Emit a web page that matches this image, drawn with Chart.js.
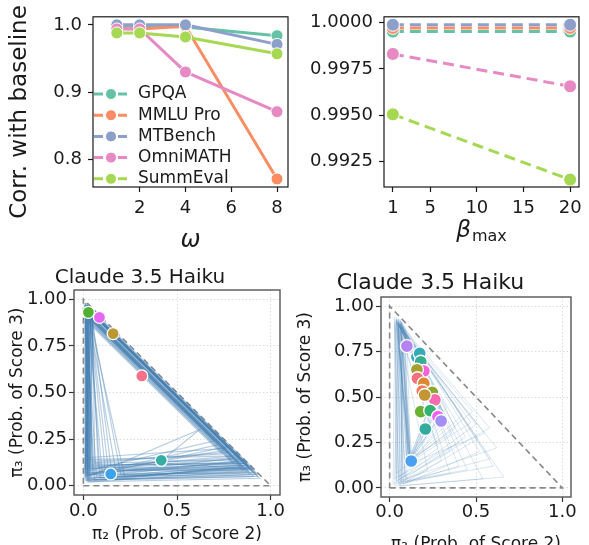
<!DOCTYPE html>
<html>
<head>
<meta charset="utf-8">
<script src="https://cdn.jsdelivr.net/npm/chart.js@4.4.0/dist/chart.umd.min.js"></script>
<style>
  html, body { margin: 0; padding: 0; background: #fff; }
  #wrap { position: relative; width: 589px; height: 545px; overflow: hidden; }
  canvas { position: absolute; }
</style>
</head>
<body>
<div id="wrap">
  <canvas id="cOmega" style="left:0;top:0" width="295" height="255"></canvas>
  <canvas id="cBeta" style="left:295px;top:0" width="294" height="255"></canvas>
  <canvas id="cSimplexA" style="left:0;top:255px" width="290" height="290"></canvas>
  <canvas id="cSimplexB" style="left:290px;top:255px" width="299" height="300"></canvas>
</div>
<script>
// ---- data ----
const seriesNames = ['GPQA', 'MMLU Pro', 'MTBench', 'OmniMATH', 'SummEval'];
const seriesColors = ['#66c2a5', '#fc8d62', '#8da0cb', '#e78ac3', '#a6d854'];

const omegaX = [1, 2, 4, 8];
const omegaGPQA = [0.999, 0.999, 0.997, 0.984];
const omegaMMLU = [0.995, 0.994, 0.998, 0.771];
const omegaMTBench = [1.0, 1.0, 1.0, 0.971];
const omegaOmni = [0.994, 0.994, 0.930, 0.871];
const omegaSumm = [0.988, 0.988, 0.982, 0.957];

const betaX = [1, 20];
const betaGPQA = [0.99952, 0.99952];
const betaMMLU = [0.99972, 0.99972];
const betaMTBench = [0.99989, 0.99989];
const betaOmni = [0.99831, 0.99656];
const betaSumm = [0.99504, 0.99151];

const omegaTicks = [2, 4, 6, 8];
const corrTicksOmega = [0.8, 0.9, 1.0];
const betaTicks = [1, 5, 10, 15, 20];
const corrTicksBeta = [0.9925, 0.995, 0.9975, 1.0];
const probTicksX = [0, 0.5, 1];
const probTicksY = [0, 0.25, 0.5, 0.75, 1];

// simplex panels: (pi2, pi3) trajectories and final points
const simplexEdge = [[0, 0], [1, 0], [0, 1], [0, 0]];

const trajHaikuA = [
  [[0.01,0.98],[0.01,0.03],[0.92,0.06],[0.01,0.96]],
  [[0.02,0.96],[0.02,0.05],[0.88,0.10],[0.01,0.96]],
  [[0.03,0.95],[0.02,0.08],[0.85,0.12],[0.02,0.94]],
  [[0.02,0.97],[0.03,0.02],[0.90,0.08],[0.02,0.95]],
  [[0.04,0.94],[0.01,0.10],[0.80,0.15],[0.03,0.91]],
  [[0.01,0.97],[0.04,0.04],[0.86,0.09],[0.01,0.93]],
  [[0.03,0.96],[0.02,0.12],[0.78,0.18],[0.03,0.92]],
  [[0.02,0.95],[0.05,0.06],[0.91,0.07],[0.02,0.95]],
  [[0.05,0.93],[0.03,0.09],[0.83,0.13],[0.04,0.91]],
  [[0.01,0.96],[0.01,0.07],[0.87,0.11],[0.02,0.95]],
  [[0.03,0.94],[0.12,0.05],[0.89,0.06],[0.02,0.92]],
  [[0.02,0.96],[0.18,0.04],[0.84,0.10],[0.02,0.91]],
  [[0.04,0.95],[0.08,0.10],[0.82,0.16],[0.03,0.94]],
  [[0.02,0.97],[0.02,0.15],[0.76,0.20],[0.02,0.93]],
  [[0.01,0.95],[0.06,0.03],[0.93,0.05],[0.01,0.96]],
  [[0.03,0.97],[0.03,0.06],[0.72,0.22],[0.03,0.90]],
  [[0.02,0.94],[0.01,0.04],[0.85,0.08],[0.02,0.90]],
  [[0.04,0.96],[0.15,0.08],[0.88,0.09],[0.03,0.93]],
  [[0.02,0.98],[0.02,0.11],[0.80,0.12],[0.02,0.89]],
  [[0.05,0.90],[0.03,0.05],[0.62,0.30],[0.40,0.12],[0.89,0.09],[0.02,0.95]],
  [[0.01,0.97],[0.02,0.02],[0.94,0.04],[0.01,0.97]],
  [[0.03,0.95],[0.04,0.13],[0.74,0.17],[0.03,0.87]],
  [[0.02,0.96],[0.10,0.07],[0.86,0.13],[0.02,0.96]],
  [[0.04,0.93],[0.02,0.06],[0.81,0.11],[0.04,0.87]],
  [[0.01,0.98],[0.03,0.03],[0.90,0.10],[0.01,0.98]],
  [[0.03,0.96],[0.20,0.06],[0.87,0.07],[0.03,0.90]],
  [[0.02,0.95],[0.01,0.09],[0.79,0.14],[0.02,0.90]],
  [[0.05,0.94],[0.06,0.12],[0.84,0.14],[0.04,0.93]],
  [[0.02,0.97],[0.02,0.04],[0.92,0.07],[0.02,0.96]],
  [[0.03,0.95],[0.14,0.03],[0.88,0.11],[0.03,0.95]],
  [[0.02,0.97],[0.02,0.06],[0.83,0.15],[0.02,0.95]],
  [[0.01,0.96],[0.03,0.10],[0.89,0.09],[0.01,0.96]],
  [[0.03,0.97],[0.01,0.05],[0.77,0.21],[0.03,0.94]],
  [[0.02,0.95],[0.04,0.07],[0.86,0.12],[0.02,0.95]],
  [[0.04,0.96],[0.02,0.03],[0.91,0.05],[0.03,0.92]],
  [[0.01,0.97],[0.07,0.05],[0.82,0.13],[0.01,0.93]],
  [[0.03,0.94],[0.02,0.14],[0.79,0.16],[0.03,0.91]],
  [[0.02,0.96],[0.05,0.09],[0.88,0.08],[0.02,0.93]],
  [[0.04,0.95],[0.03,0.04],[0.84,0.11],[0.03,0.91]],
  [[0.01,0.98],[0.01,0.06],[0.75,0.19],[0.01,0.92]],
  [[0.02,0.96],[0.22,0.05],[0.90,0.09],[0.02,0.96]],
  [[0.03,0.95],[0.09,0.04],[0.85,0.10],[0.02,0.92]],
  [[0.02,0.97],[0.02,0.08],[0.70,0.24],[0.02,0.91]],
  [[0.05,0.93],[0.04,0.11],[0.87,0.12],[0.04,0.94]],
  [[0.01,0.96],[0.02,0.03],[0.93,0.06],[0.01,0.97]]
];
const finalHaikuA = [[0.027,0.930],[0.086,0.903],[0.159,0.816],[0.312,0.589],[0.416,0.136],[0.146,0.063]];
const finalColorsA = ['#50b131', '#e866f4', '#bb9832', '#f77189', '#36ada4', '#3ba3ec'];

const trajHaikuB = [
  [[0.04,0.92],[0.12,0.14],[0.30,0.42],[0.05,0.90]],
  [[0.06,0.90],[0.11,0.16],[0.28,0.46],[0.06,0.91]],
  [[0.05,0.93],[0.10,0.12],[0.33,0.38],[0.04,0.92]],
  [[0.07,0.88],[0.12,0.18],[0.26,0.50],[0.07,0.89]],
  [[0.03,0.91],[0.05,0.03],[0.45,0.10],[0.05,0.90]],
  [[0.05,0.89],[0.08,0.02],[0.52,0.20],[0.06,0.92]],
  [[0.04,0.94],[0.03,0.05],[0.40,0.25],[0.04,0.92]],
  [[0.08,0.87],[0.10,0.04],[0.58,0.16],[0.07,0.88]],
  [[0.05,0.91],[0.06,0.01],[0.66,0.06],[0.05,0.91]],
  [[0.06,0.93],[0.12,0.15],[0.38,0.33],[0.06,0.92]],
  [[0.03,0.90],[0.02,0.02],[0.50,0.35],[0.04,0.91]],
  [[0.09,0.85],[0.11,0.13],[0.55,0.30],[0.08,0.86]],
  [[0.04,0.92],[0.09,0.06],[0.35,0.20],[0.05,0.93]],
  [[0.06,0.90],[0.13,0.17],[0.32,0.40],[0.06,0.90]],
  [[0.05,0.88],[0.04,0.08],[0.48,0.42],[0.05,0.90]],
  [[0.07,0.91],[0.07,0.03],[0.60,0.12],[0.07,0.91]],
  [[0.04,0.93],[0.11,0.15],[0.29,0.44],[0.04,0.93]],
  [[0.08,0.89],[0.12,0.16],[0.27,0.48],[0.08,0.89]],
  [[0.03,0.92],[0.04,0.02],[0.22,0.10],[0.04,0.92]],
  [[0.06,0.86],[0.09,0.05],[0.44,0.28],[0.06,0.88]],
  [[0.05,0.90],[0.10,0.14],[0.31,0.41],[0.05,0.90]],
  [[0.10,0.84],[0.12,0.15],[0.34,0.36],[0.09,0.85]],
  [[0.04,0.91],[0.12,0.13],[0.25,0.52],[0.05,0.91]],
  [[0.07,0.92],[0.05,0.02],[0.35,0.08],[0.07,0.90]],
  [[0.05,0.87],[0.11,0.14],[0.42,0.40],[0.06,0.88]],
  [[0.03,0.93],[0.08,0.04],[0.30,0.15],[0.04,0.91]],
  [[0.06,0.92],[0.12,0.16],[0.36,0.30],[0.05,0.90]],
  [[0.09,0.87],[0.10,0.12],[0.24,0.47],[0.08,0.87]],
  [[0.04,0.90],[0.06,0.04],[0.62,0.22],[0.05,0.89]],
  [[0.05,0.92],[0.03,0.01],[0.54,0.05],[0.05,0.91]],
  [[0.06,0.89],[0.12,0.14],[0.47,0.36],[0.06,0.90]],
  [[0.03,0.94],[0.05,0.06],[0.28,0.22],[0.04,0.92]],
  [[0.07,0.90],[0.11,0.15],[0.30,0.47],[0.07,0.90]],
  [[0.05,0.91],[0.09,0.03],[0.51,0.27],[0.05,0.91]],
  [[0.04,0.88],[0.12,0.14],[0.27,0.43],[0.05,0.90]],
  [[0.08,0.88],[0.06,0.02],[0.40,0.12],[0.07,0.89]],
  [[0.05,0.93],[0.11,0.15],[0.33,0.44],[0.05,0.92]],
  [[0.06,0.91],[0.04,0.04],[0.58,0.33],[0.06,0.90]]
];
const finalHaikuB = [
  [0.100,0.780],[0.158,0.720],[0.174,0.740],[0.180,0.694],[0.198,0.643],[0.158,0.650],
  [0.161,0.603],[0.198,0.575],[0.189,0.533],[0.247,0.526],[0.262,0.484],[0.203,0.511],
  [0.180,0.420],[0.235,0.425],[0.280,0.392],[0.298,0.368],[0.207,0.324],[0.125,0.148]
];
const finalColorsB = [
  '#b483f4', '#38a7d0', '#36aab5', '#35ae93', '#f461dd', '#a5a031',
  '#f7707d', '#dc8932', '#f37b59', '#8da631', '#f66bad', '#c39533',
  '#6ab131', '#33b171', '#f062f3', '#a18ff6', '#35ab9f', '#4ca0f4'
];

// ---- helpers ----
const FONT = '"DejaVu Sans", sans-serif';
const INK = '#1a1a1a';

const fixedTicks = (vals) => (scale) => { scale.ticks = vals.map(v => ({ value: v })); };

const framePlugin = {
  id: 'frame',
  afterDatasetsDraw(chart, args, opts) {
    const a = chart.chartArea, ctx = chart.ctx;
    ctx.save();
    ctx.strokeStyle = opts.color || INK;
    ctx.lineWidth = opts.width || 1.2;
    ctx.strokeRect(a.left, a.top, a.right - a.left, a.bottom - a.top);
    ctx.restore();
  }
};

const keyPlugin = {
  id: 'seriesKey',
  afterDraw(chart, args, opts) {
    if (!opts.items) return;
    const ctx = chart.ctx;
    opts.items.forEach((it, i) => {
      const y = opts.y + i * opts.gap;
      ctx.save();
      ctx.strokeStyle = it.color; ctx.lineWidth = 3; ctx.setLineDash([9, 3]);
      ctx.beginPath(); ctx.moveTo(opts.x, y); ctx.lineTo(opts.x + 34, y); ctx.stroke();
      ctx.setLineDash([]);
      ctx.beginPath(); ctx.arc(opts.x + 17, y, 5.5, 0, Math.PI * 2);
      ctx.fillStyle = it.color; ctx.fill();
      ctx.strokeStyle = '#fff'; ctx.lineWidth = 1; ctx.stroke();
      ctx.fillStyle = INK; ctx.font = '17px ' + FONT; ctx.textBaseline = 'middle';
      ctx.fillText(it.label, opts.x + 44, y);
      ctx.restore();
    });
  }
};

// free axis texts: rotated y label, beta_max with subscript
const axisTextPlugin = {
  id: 'axisText',
  afterDraw(chart, args, opts) {
    const ctx = chart.ctx;
    (opts.items || []).forEach(it => {
      ctx.save();
      ctx.fillStyle = INK;
      ctx.translate(it.x, it.y);
      if (it.rot) ctx.rotate(it.rot);
      if (it.sub) {
        ctx.textBaseline = 'alphabetic';
        ctx.font = it.font;
        const w1 = ctx.measureText(it.text).width;
        ctx.font = it.subFont;
        const w2 = ctx.measureText(it.sub).width;
        const x0 = -(w1 + w2) / 2;
        ctx.font = it.font;
        ctx.fillText(it.text, x0, 0);
        ctx.font = it.subFont;
        ctx.fillText(it.sub, x0 + w1 + 1, 4);
      } else {
        ctx.textAlign = 'center'; ctx.textBaseline = 'middle';
        ctx.font = it.font;
        ctx.fillText(it.text, 0, 0);
      }
      ctx.restore();
    });
  }
};

function lineSeries(xs, ys, i, dashed) {
  return {
    label: seriesNames[i],
    data: xs.map((x, j) => ({ x: x, y: ys[j] })),
    borderColor: seriesColors[i],
    backgroundColor: seriesColors[i],
    borderWidth: 3,
    borderDash: dashed ? [11, 6] : [],
    pointRadius: dashed ? 6.5 : 6,
    pointBackgroundColor: seriesColors[i],
    pointBorderColor: '#fff',
    pointBorderWidth: 1,
    tension: 0,
    order: 5 - i
  };
}

function topAxes(xTicks, xMin, xMax, xFmt, yTicks, yMin, yMax, yFmt, yWidth) {
  const tickFont = { family: FONT, size: 18 };
  return {
    x: {
      type: 'linear', min: xMin, max: xMax,
      afterBuildTicks: fixedTicks(xTicks),
      afterFit: (s) => { s.height = 68; },
      grid: { drawOnChartArea: false, drawTicks: true, tickLength: 5, tickColor: INK, tickWidth: 1.2 },
      border: { display: false },
      ticks: { color: INK, font: tickFont, padding: 6, maxRotation: 0, callback: xFmt },
      title: { display: false }
    },
    y: {
      type: 'linear', min: yMin, max: yMax,
      afterBuildTicks: fixedTicks(yTicks),
      afterFit: (s) => { s.width = yWidth; },
      grid: { drawOnChartArea: false, drawTicks: true, tickLength: 5, tickColor: INK, tickWidth: 1.2 },
      border: { display: false },
      ticks: { color: INK, font: tickFont, padding: 6, callback: yFmt },
      title: { display: false }
    }
  };
}

const baseOpts = {
  responsive: false,
  devicePixelRatio: 1,
  animation: false,
  events: []
};

// ---- panel 1: omega ----
const omegaSets = [omegaGPQA, omegaMMLU, omegaMTBench, omegaOmni, omegaSumm];
const cfgOmega = {
  type: 'line',
  data: { datasets: omegaSets.map((ys, i) => lineSeries(omegaX, ys, i, false)) },
  options: Object.assign({}, baseOpts, {
    layout: { padding: { top: 15, right: 6, left: 0, bottom: 0 } },
    scales: topAxes(omegaTicks, -0.04, 8.48, (v) => String(v),
                    corrTicksOmega, 0.759, 1.012, (v) => v.toFixed(1), 93),
    plugins: {
      legend: { display: false }, tooltip: { enabled: false },
      frame: { color: INK, width: 1.2 },
      seriesKey: { x: 94, y: 94, gap: 21.2, items: seriesNames.map((n, i) => ({ label: n, color: seriesColors[i] })) },
      axisText: { items: [{ text: 'Corr. with baseline', x: 20, y: 112, rot: -Math.PI / 2, font: '23px ' + FONT }] }
    }
  }),
  plugins: [framePlugin, keyPlugin, axisTextPlugin]
};
cfgOmega.options.scales.x.title = { display: true, text: 'ω', color: INK, font: { family: FONT, size: 24, style: 'italic' }, padding: { top: 13, bottom: 0 } };
new Chart(document.getElementById('cOmega'), cfgOmega);

// ---- panel 2: beta_max ----
const betaSets = [betaGPQA, betaMMLU, betaMTBench, betaOmni, betaSumm];
new Chart(document.getElementById('cBeta'), {
  type: 'line',
  data: { datasets: betaSets.map((ys, i) => lineSeries(betaX, ys, i, true)) },
  options: Object.assign({}, baseOpts, {
    layout: { padding: { top: 15, right: 10, left: 0, bottom: 0 } },
    scales: topAxes(betaTicks, 0.05, 20.95, (v) => String(v),
                    corrTicksBeta, 0.99111, 1.00032, (v) => v.toFixed(4), 89),
    plugins: {
      legend: { display: false }, tooltip: { enabled: false },
      frame: { color: INK, width: 1.2 },
      axisText: { items: [{ text: 'β', sub: 'max', x: 186, y: 237, font: 'italic 23px ' + FONT, subFont: '16px ' + FONT }] }
    }
  }),
  plugins: [framePlugin, axisTextPlugin]
});

// ---- panels 3 & 4: simplex ----
function simplexChart(id, traj, finals, colors, opts) {
  const sets = [];
  sets.push({
    type: 'scatter', data: finals.map(p => ({ x: p[0], y: p[1] })),
    pointRadius: opts.radius, pointBackgroundColor: colors, pointBorderColor: '#fff',
    pointBorderWidth: 1.3, showLine: false, order: 0
  });
  traj.forEach(t => sets.push({
    type: 'scatter', data: t.map(p => ({ x: p[0], y: p[1] })),
    showLine: true, pointRadius: 0, borderWidth: opts.lineWidth, borderColor: opts.lineColor,
    fill: false, tension: 0, order: 1
  }));
  sets.push({
    type: 'scatter', data: simplexEdge.map(p => ({ x: p[0], y: p[1] })),
    showLine: true, pointRadius: 0, borderWidth: 1.6, borderColor: '#888',
    borderDash: [6, 4], fill: false, tension: 0, order: 2
  });
  const tickFont = { family: FONT, size: 18 };
  const gridOpts = { color: '#d4d4d4', lineWidth: 0.8, drawTicks: true, tickLength: 5, tickColor: '#333', tickWidth: 1.2, tickBorderDash: [] };
  new Chart(document.getElementById(id), {
    type: 'scatter',
    data: { datasets: sets },
    options: Object.assign({}, baseOpts, {
      layout: { padding: { top: 0, right: opts.padRight, left: 0, bottom: 0 } },
      scales: {
        x: {
          type: 'linear', min: -0.05, max: 1.05,
          afterBuildTicks: fixedTicks(probTicksX),
          afterFit: (s) => { s.height = opts.xHeight; },
          grid: gridOpts, border: { display: false, dash: [1.5, 2] },
          ticks: { color: INK, font: tickFont, padding: opts.xTickPad, maxRotation: 0, callback: (v) => v.toFixed(1) },
          title: { display: true, text: 'π₂ (Prob. of Score 2)', color: INK, font: { family: FONT, size: 17 }, padding: { top: opts.xTitlePad, bottom: 0 } }
        },
        y: {
          type: 'linear', min: -0.05, max: 1.05,
          afterBuildTicks: fixedTicks(probTicksY),
          afterFit: (s) => { s.width = opts.yWidth; },
          grid: gridOpts, border: { display: false, dash: [1.5, 2] },
          ticks: { color: INK, font: tickFont, padding: 2, callback: (v) => v.toFixed(2) },
          title: { display: true, text: 'π₃ (Prob. of Score 3)', color: INK, font: { family: FONT, size: 17 }, padding: { top: opts.yTitlePad, bottom: 0 } }
        }
      },
      plugins: {
        legend: { display: false }, tooltip: { enabled: false },
        title: { display: true, text: 'Claude 3.5 Haiku', color: INK, font: { family: FONT, size: opts.titleSize, weight: 'normal' }, padding: opts.titlePad },
        frame: { color: '#555', width: 1.4 }
      }
    }),
    plugins: [framePlugin]
  });
}

simplexChart('cSimplexA', trajHaikuA, finalHaikuA, finalColorsA, {
  radius: 6, lineColor: 'rgba(70,130,180,0.38)', lineWidth: 1.2, padRight: 10, xHeight: 50, yWidth: 74,
  xTickPad: 1, xTitlePad: 3, yTitlePad: 7, titleSize: 20, titlePad: { top: 11, bottom: 0 }
});
simplexChart('cSimplexB', trajHaikuB, finalHaikuB, finalColorsB, {
  radius: 6.5, lineColor: 'rgba(70,130,180,0.2)', lineWidth: 1, padRight: 18, xHeight: 58, yWidth: 91,
  xTickPad: 0, xTitlePad: 7, yTitlePad: 5, titleSize: 22, titlePad: { top: 15, bottom: 0.6 }
});
</script>
</body>
</html>
